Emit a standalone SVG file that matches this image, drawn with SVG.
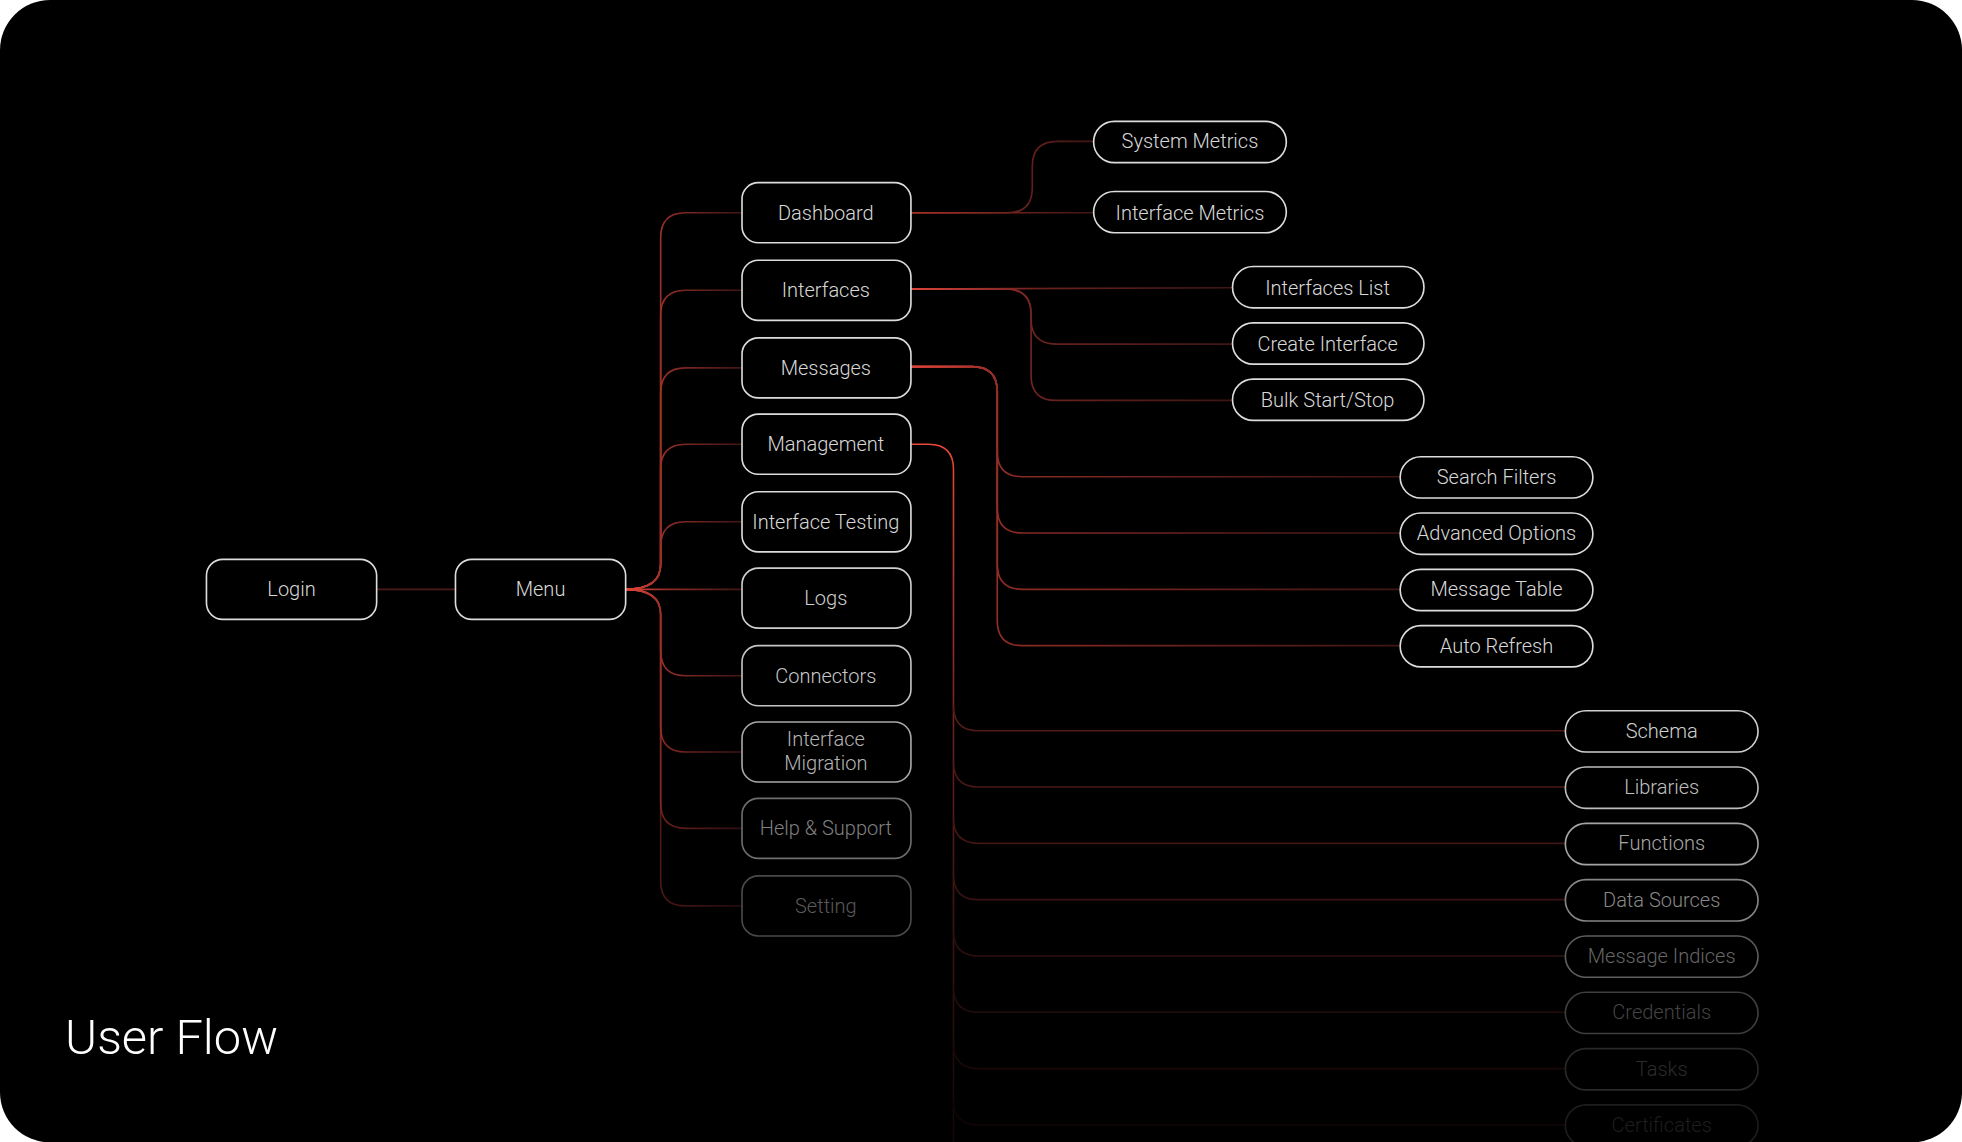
<svg xmlns="http://www.w3.org/2000/svg" width="1962" height="1142" viewBox="0 0 1962 1142">
<defs>
<style>
.n rect{fill:#000;stroke:#dcdcdc;stroke-width:1.3}
.n text{fill:#d8d8d8;font-family:Roboto,Inter,"Liberation Sans",sans-serif;font-weight:300;font-size:16px;text-anchor:middle;dominant-baseline:central}
.c path{fill:none;stroke-width:1.3}
</style>
<linearGradient id="gm" gradientUnits="userSpaceOnUse" x1="500" y1="0" x2="593" y2="0"><stop offset="0" stop-color="#e8483a"/><stop offset="0.35" stop-color="#8f2c26"/><stop offset="1" stop-color="#3e1614"/></linearGradient>
<linearGradient id="gd" gradientUnits="userSpaceOnUse" x1="728" y1="0" x2="874" y2="0"><stop offset="0" stop-color="#a8322a"/><stop offset="1" stop-color="#3e1614"/></linearGradient>
<linearGradient id="gi" gradientUnits="userSpaceOnUse" x1="728" y1="0" x2="985" y2="0"><stop offset="0" stop-color="#e0453a"/><stop offset="0.4" stop-color="#6a2220"/><stop offset="1" stop-color="#3e1614"/></linearGradient>
<linearGradient id="gs" gradientUnits="userSpaceOnUse" x1="728" y1="0" x2="1119" y2="0"><stop offset="0" stop-color="#e0453a"/><stop offset="0.2" stop-color="#8a2a24"/><stop offset="1" stop-color="#3e1614"/></linearGradient>
<linearGradient id="gg" gradientUnits="userSpaceOnUse" x1="0" y1="355" x2="0" y2="913"><stop offset="0" stop-color="#e8483a"/><stop offset="0.45" stop-color="#5e1e1c"/><stop offset="1" stop-color="#100605"/></linearGradient>
<clipPath id="clip"><rect x="0" y="0" width="1568" height="913" rx="40"/></clipPath>
</defs>
<rect width="1962" height="1142" fill="#fff"/>
<g transform="scale(1.25128)">
<rect x="0" y="0" width="1568" height="913" rx="40" fill="#000"/>
<g clip-path="url(#clip)">
<g class="c" id="connectors">
<path d="M301,471 L364,471" stroke="#4e1a18"/>
<path d="M500,471 Q528,471 528,451 L528,190 Q528,170 548,170 L593,170" stroke="url(#gm)"/>
<path d="M500,471 Q528,471 528,451 L528,252 Q528,232 548,232 L593,232" stroke="url(#gm)"/>
<path d="M500,471 Q528,471 528,451 L528,314 Q528,294 548,294 L593,294" stroke="url(#gm)"/>
<path d="M500,471 Q528,471 528,451 L528,375 Q528,355 548,355 L593,355" stroke="url(#gm)"/>
<path d="M500,471 Q528,471 528,451 L528,437 Q528,417 548,417 L593,417" stroke="url(#gm)"/>
<path d="M500,471 L593,471" stroke="url(#gm)"/>
<path d="M500,471 Q528,471 528,491 L528,520 Q528,540 548,540 L593,540" stroke="url(#gm)"/>
<path d="M500,471 Q528,471 528,491 L528,581 Q528,601 548,601 L593,601" stroke="url(#gm)" opacity="0.9"/>
<path d="M500,471 Q528,471 528,491 L528,642 Q528,662 548,662 L593,662" stroke="url(#gm)" opacity="0.7"/>
<path d="M500,471 Q528,471 528,491 L528,704 Q528,724 548,724 L593,724" stroke="url(#gm)" opacity="0.5"/>
<path d="M728,170 L874,170" stroke="url(#gd)"/>
<path d="M728,170 L805,170 Q825,170 825,150 L825,133 Q825,113 845,113 L874,113" stroke="url(#gd)"/>
<path d="M728,231 L985,230" stroke="url(#gi)"/>
<path d="M728,231 L804,231 Q824,231 824,251 L824,255 Q824,275 844,275 L985,275" stroke="url(#gi)"/>
<path d="M728,231 L804,231 Q824,231 824,251 L824,300 Q824,320 844,320 L985,320" stroke="url(#gi)"/>
<path d="M728,293 L777,293 Q797,293 797,313 L797,361 Q797,381 817,381 L1119,381" stroke="url(#gs)"/>
<path d="M728,293 L777,293 Q797,293 797,313 L797,406 Q797,426 817,426 L1119,426" stroke="url(#gs)"/>
<path d="M728,293 L777,293 Q797,293 797,313 L797,451 Q797,471 817,471 L1119,471" stroke="url(#gs)"/>
<path d="M728,293 L777,293 Q797,293 797,313 L797,496 Q797,516 817,516 L1119,516" stroke="url(#gs)"/>
<path d="M728,355 L742,355 Q762,355 762,375 L762,913" stroke="url(#gg)"/>
<path d="M762,564 Q762,584 782,584 L1251,584" stroke="#521a18"/>
<path d="M762,609 Q762,629 782,629 L1251,629" stroke="#4a1816"/>
<path d="M762,654 Q762,674 782,674 L1251,674" stroke="#421614"/>
<path d="M762,699 Q762,719 782,719 L1251,719" stroke="#381312"/>
<path d="M762,744 Q762,764 782,764 L1251,764" stroke="#2c100f"/>
<path d="M762,789 Q762,809 782,809 L1251,809" stroke="#220d0c"/>
<path d="M762,834 Q762,854 782,854 L1251,854" stroke="#180908"/>
<path d="M762,879 Q762,899 782,899 L1251,899" stroke="#100505"/>
</g>
<g class="n" id="n-login"><rect x="165" y="447" width="136" height="48" rx="13"/><text x="233" y="471">Login</text></g>
<g class="n" id="n-menu"><rect x="364" y="447" width="136" height="48" rx="13"/><text x="432" y="471">Menu</text></g>
<g class="n" id="n-dashboard"><rect x="593" y="146" width="135" height="48" rx="13"/><text x="660" y="170">Dashboard</text></g>
<g class="n" id="n-interfaces"><rect x="593" y="208" width="135" height="48" rx="13"/><text x="660" y="232">Interfaces</text></g>
<g class="n" id="n-messages"><rect x="593" y="270" width="135" height="48" rx="13"/><text x="660" y="294">Messages</text></g>
<g class="n" id="n-management"><rect x="593" y="331" width="135" height="48" rx="13"/><text x="660" y="355">Management</text></g>
<g class="n" id="n-testing"><rect x="593" y="393" width="135" height="48" rx="13"/><text x="660" y="417">Interface Testing</text></g>
<g class="n" id="n-logs"><rect x="593" y="454" width="135" height="48" rx="13" style="stroke:#cfcfcf"/><text x="660" y="478" style="fill:#cfcfcf">Logs</text></g>
<g class="n" id="n-connectors"><rect x="593" y="516" width="135" height="48" rx="13" style="stroke:#c4c4c4"/><text x="660" y="540" style="fill:#c8c8c8">Connectors</text></g>
<g class="n" id="n-migration"><rect x="593" y="577" width="135" height="48" rx="13" style="stroke:#a8a8a8"/><text x="660" y="591" style="fill:#b4b4b4">Interface</text><text x="660" y="610" style="fill:#b4b4b4">Migration</text></g>
<g class="n" id="n-help"><rect x="593" y="638" width="135" height="48" rx="13" style="stroke:#6e6e6e"/><text x="660" y="662" style="fill:#808080">Help &amp; Support</text></g>
<g class="n" id="n-setting"><rect x="593" y="700" width="135" height="48" rx="13" style="stroke:#4a4a4a"/><text x="660" y="724" style="fill:#5a5a5a">Setting</text></g>
<g class="n" id="n-sysmetrics"><rect x="874" y="97" width="154" height="33" rx="16.5"/><text x="951" y="113">System Metrics</text></g>
<g class="n" id="n-ifmetrics"><rect x="874" y="153" width="154" height="33" rx="16.5"/><text x="951" y="170">Interface Metrics</text></g>
<g class="n" id="n-iflist"><rect x="985" y="213" width="153" height="33" rx="16.5"/><text x="1061" y="230">Interfaces List</text></g>
<g class="n" id="n-create"><rect x="985" y="258" width="153" height="33" rx="16.5"/><text x="1061" y="275">Create Interface</text></g>
<g class="n" id="n-bulk"><rect x="985" y="303" width="153" height="33" rx="16.5"/><text x="1061" y="320">Bulk Start/Stop</text></g>
<g class="n" id="n-search"><rect x="1119" y="365" width="154" height="33" rx="16.5"/><text x="1196" y="381">Search Filters</text></g>
<g class="n" id="n-advanced"><rect x="1119" y="410" width="154" height="33" rx="16.5"/><text x="1196" y="426">Advanced Options</text></g>
<g class="n" id="n-table"><rect x="1119" y="455" width="154" height="33" rx="16.5"/><text x="1196" y="471">Message Table</text></g>
<g class="n" id="n-refresh"><rect x="1119" y="500" width="154" height="33" rx="16.5"/><text x="1196" y="516">Auto Refresh</text></g>
<g class="n" id="n-schema"><rect x="1251" y="568" width="154" height="33" rx="16.5" style="stroke:#cfcfcf"/><text x="1328" y="584" style="fill:#d0d0d0">Schema</text></g>
<g class="n" id="n-libraries"><rect x="1251" y="613" width="154" height="33" rx="16.5" style="stroke:#bdbdbd"/><text x="1328" y="629" style="fill:#c0c0c0">Libraries</text></g>
<g class="n" id="n-functions"><rect x="1251" y="658" width="154" height="33" rx="16.5" style="stroke:#a5a5a5"/><text x="1328" y="674" style="fill:#a8a8a8">Functions</text></g>
<g class="n" id="n-datasources"><rect x="1251" y="703" width="154" height="33" rx="16.5" style="stroke:#858585"/><text x="1328" y="719" style="fill:#888">Data Sources</text></g>
<g class="n" id="n-indices"><rect x="1251" y="748" width="154" height="33" rx="16.5" style="stroke:#5e5e5e"/><text x="1328" y="764" style="fill:#666">Message Indices</text></g>
<g class="n" id="n-credentials"><rect x="1251" y="793" width="154" height="33" rx="16.5" style="stroke:#3e3e3e"/><text x="1328" y="809" style="fill:#444">Credentials</text></g>
<g class="n" id="n-tasks"><rect x="1251" y="838" width="154" height="33" rx="16.5" style="stroke:#282828"/><text x="1328" y="854" style="fill:#2c2c2c">Tasks</text></g>
<g class="n" id="n-certificates"><rect x="1251" y="883" width="154" height="33" rx="16.5" style="stroke:#1c1c1c"/><text x="1328" y="899" style="fill:#1e1e1e">Certificates</text></g>
<text x="52" y="842" fill="#fff" font-family="Roboto,Inter,'Liberation Sans',sans-serif" font-weight="300" font-size="39">User Flow</text>
</g>
</g>
</svg>
